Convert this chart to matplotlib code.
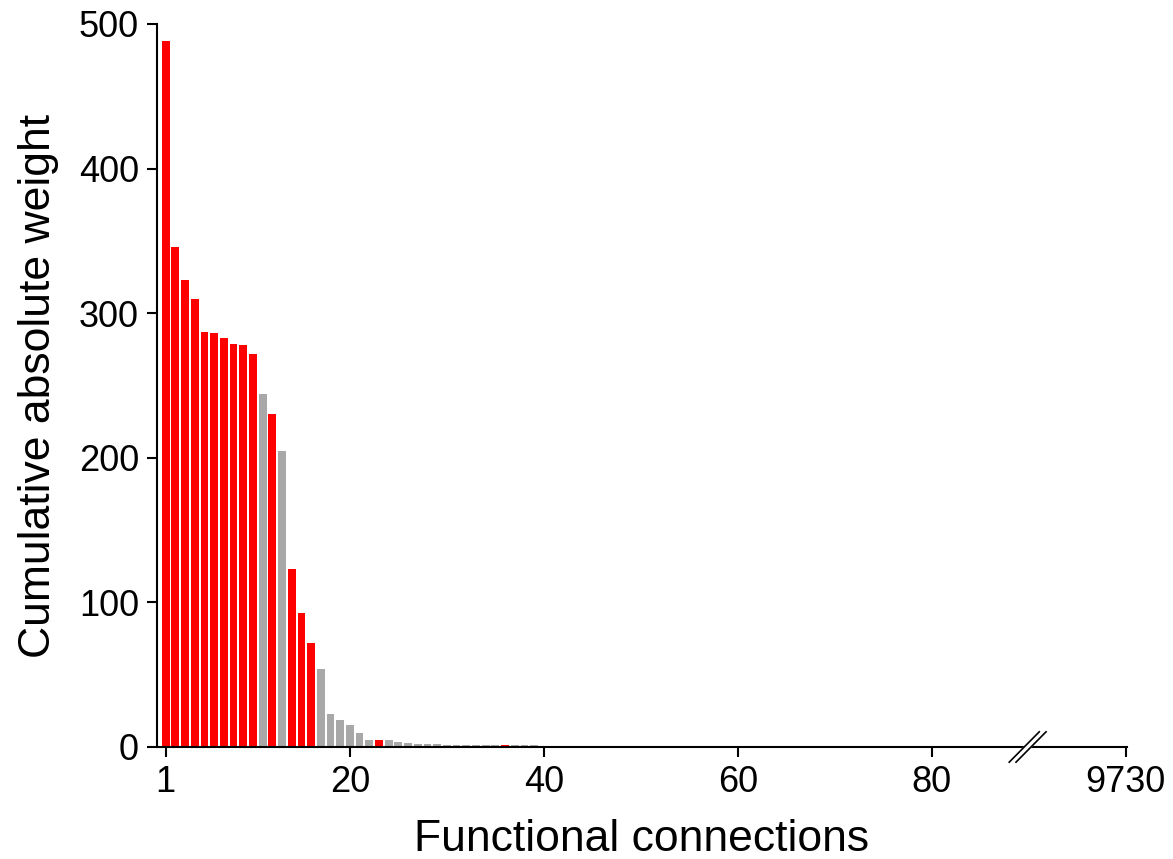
import matplotlib
matplotlib.use('Agg')
import matplotlib.pyplot as plt
import matplotlib.transforms as mtransforms

plt.rcParams['font.family'] = ['Liberation Sans', 'DejaVu Sans']

# bar heights for ranks 1..39
head_values = [488, 346, 323, 310, 287, 286, 283, 279, 278, 272,
               244, 230, 205, 123, 93, 72, 54, 23, 19, 15,
               10, 5, 4.5, 4.5, 3.5, 2.5, 2, 2, 2, 1.5,
               1.5, 1.5, 1.2, 1.2, 1.2, 1.2, 1.2, 1.2, 1.2]
# tiny remainder, ranks 40..100 (100 stands for 9730)
tail_values = [0.6, 0.6, 0.5, 0.5, 0.5, 0.5, 0.4, 0.4, 0.4, 0.4,
               0.4, 0.4, 0.3, 0.3, 0.3, 0.3, 0.3, 0.3, 0.3, 0.3,
               0.3, 0.3, 0.3, 0.3, 0.3, 0.3, 0.3, 0.3, 0.3, 0.3,
               0.3, 0.3, 0.3, 0.3, 0.3, 0.3, 0.3, 0.3, 0.3, 0.3,
               0.3, 0.3, 0.3, 0.3, 0.3, 0.3, 0.3, 0.3, 0.3, 0.3,
               0.3, 0.3, 0.3, 0.3, 0.3, 0.3, 0.3, 0.3, 0.3, 0.3,
               0.3]
red_ranks = [1, 2, 3, 4, 5, 6, 7, 8, 9, 10, 12, 14, 15, 16, 23, 36]
tick_pos = [1, 20, 40, 60, 80, 100]
tick_labels = ['1', '20', '40', '60', '80', '9730']

values = head_values + tail_values
ranks = list(range(1, len(values) + 1))
colors = ['#ff0000' if r in red_ranks else '#a8a8a8' for r in ranks]

fig = plt.figure(figsize=(11.73, 8.59), dpi=100)
ax = fig.add_axes([0.1338, 0.1304, 0.8270, 0.8417])

ax.bar(ranks, values, width=0.8, color=colors, linewidth=0)

ax.set_xlim(0.1, 100.15)
ax.set_ylim(0, 500)
ax.set_xticks(tick_pos)
ax.set_xticklabels(tick_labels)
ax.set_yticks([0, 100, 200, 300, 400, 500])

for s in ['top', 'right']:
    ax.spines[s].set_visible(False)
for s in ['left', 'bottom']:
    ax.spines[s].set_linewidth(1.5)
ax.tick_params(axis='both', direction='out', length=7, width=1.5, labelsize=26, pad=6)

ax.set_xlabel('Functional connections', fontsize=32, labelpad=14)
ax.set_ylabel('Cumulative absolute weight', fontsize=32, labelpad=14)

# axis break marks
trans = mtransforms.blended_transform_factory(ax.transData, ax.transAxes)
ax.fill([88.0, 88.7, 91.8, 91.1], [-0.021, -0.021, 0.021, 0.021], color='white',
        transform=trans, clip_on=False, zorder=5)
ax.plot([88.0, 91.1], [-0.021, 0.021], color='black', lw=1.2, transform=trans, clip_on=False, zorder=6)
ax.plot([88.7, 91.8], [-0.021, 0.021], color='black', lw=1.2, transform=trans, clip_on=False, zorder=6)

fig.savefig('out.png', dpi=100)
